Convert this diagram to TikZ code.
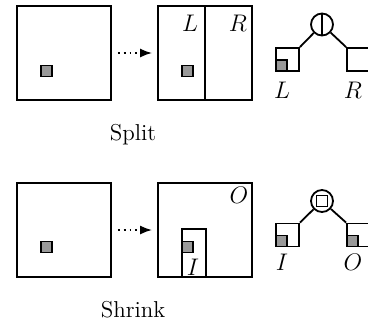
\documentclass[tikz,border=0pt]{standalone}
\usetikzlibrary{arrows.meta}
\begin{document}
\begin{tikzpicture}[x=0.5pt,y=-0.5pt, line width=0.9pt,
  font=\fontsize{11.5}{13}\selectfont,
  regionbox/.style={draw, minimum size=47pt, inner sep=0pt},
  pnt/.style={draw, fill=black!40, minimum size=5.5pt, inner sep=0pt},
  leafbox/.style={draw, minimum size=11.5pt, inner sep=0pt},
  splitnode/.style={draw, circle, minimum size=11pt, inner sep=0pt},
  lbl/.style={inner sep=0pt},
  captext/.style={inner sep=0pt},
  flow/.style={dotted, -{Latex[length=6pt,width=4.5pt]}}]
\useasboundingbox (0,0) rectangle (368,327);
% ---- Split row ----
\node[regionbox] (a1) at (64,53) {};
\node[pnt] (a1p) at (46.5,71) {};
\node[regionbox] (a2) at (205,53) {};
\draw (a2.north) -- (a2.south);
\node[pnt] (a2p) at (187.5,71) {};
\draw[flow] ([xshift=3pt]a1.east) -- ([xshift=-2.5pt]a2.west);
\node[lbl] (aL) at (190,23) {$L$};
\node[lbl] (aR) at (238,23) {$R$};
\node[splitnode] (c1) at (322,24.5) {};
\draw (c1.north) -- (c1.south);
\node[leafbox] (l1) at (287.5,59.5) {};
\node[pnt, anchor=south west] (l1p) at (l1.south west) {};
\node[leafbox] (r1) at (358.5,59.5) {};
\draw (c1) -- (l1.north east);
\draw (c1) -- (r1.north west);
\node[lbl] (tL) at (282,90) {$L$};
\node[lbl] (tR) at (353,90) {$R$};
\node[captext] (s1) at (133,135) {Split};
% ---- Shrink row ----
\node[regionbox] (b1) at (64,230) {};
\node[pnt] (b1p) at (46.5,247) {};
\node[regionbox] (b2) at (205,230) {};
\node[draw, minimum width=12pt, minimum height=24pt, inner sep=0pt] (in2) at (194,253) {};
\node[pnt] (b2p) at (187.5,247) {};
\draw[flow] ([xshift=3pt]b1.east) -- ([xshift=-2.5pt]b2.west);
\node[lbl] (bO) at (239,195) {$O$};
\node[lbl] (bI) at (193,267) {$I$};
\node[splitnode] (c2) at (322,201) {};
\node[draw, minimum size=5.5pt, inner sep=0pt] (c2s) at (c2) {};
\node[leafbox] (l2) at (287.5,235) {};
\node[pnt, anchor=south west] (l2p) at (l2.south west) {};
\node[leafbox] (r2) at (358.5,235) {};
\node[pnt, anchor=south west] (r2p) at (r2.south west) {};
\draw (c2) -- (l2.north east);
\draw (c2) -- (r2.north west);
\node[lbl] (tI) at (282,262) {$I$};
\node[lbl] (tO) at (353,262) {$O$};
\node[captext] (s2) at (133,310) {Shrink};
\end{tikzpicture}
\end{document}
